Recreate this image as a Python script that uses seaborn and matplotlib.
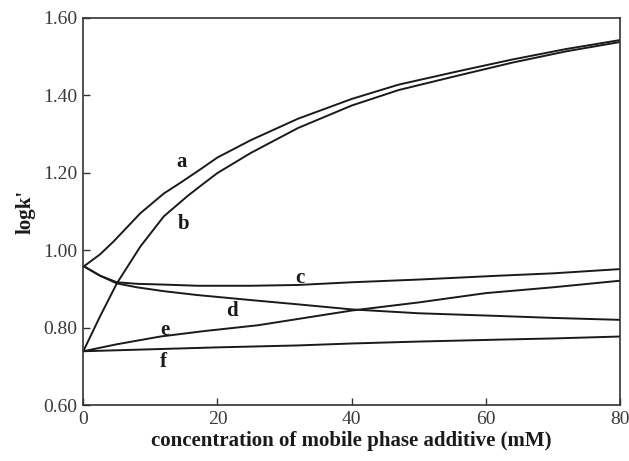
import numpy as np
import pandas as pd
import matplotlib
matplotlib.use("Agg")
import matplotlib.pyplot as plt
import seaborn as sns

sns.set_theme(style="white")
plt.rcParams['font.family'] = ['Liberation Serif', 'DejaVu Serif']

# Data
x_a = [0, 2.5, 4.5, 8.5, 12, 14.5, 17.5, 20, 25, 32, 40, 47, 56, 64, 72, 80]
y_a = [0.958, 0.99, 1.023, 1.096, 1.147, 1.175, 1.21, 1.24, 1.285, 1.34, 1.391, 1.428, 1.463, 1.493, 1.52, 1.543]
x_b = [0, 2.5, 5, 8.5, 12, 15.5, 17.5, 20, 25, 32, 40, 47, 56, 64, 72, 80]
y_b = [0.74, 0.83, 0.915, 1.01, 1.088, 1.14, 1.167, 1.20, 1.252, 1.316, 1.374, 1.414, 1.452, 1.485, 1.514, 1.538]
x_c = [0, 2.5, 5, 8, 12, 17, 25, 32, 40, 50, 62, 70, 80]
y_c = [0.96, 0.935, 0.918, 0.914, 0.912, 0.909, 0.909, 0.911, 0.918, 0.925, 0.935, 0.941, 0.952]
x_d = [0, 2.5, 5, 8, 12, 17, 25, 32, 40, 50, 62, 70, 80]
y_d = [0.96, 0.935, 0.915, 0.905, 0.895, 0.885, 0.872, 0.861, 0.848, 0.838, 0.831, 0.826, 0.821]
x_e = [0, 5, 11.5, 18, 26, 33, 40, 50, 60, 70, 80]
y_e = [0.74, 0.758, 0.778, 0.792, 0.807, 0.826, 0.845, 0.866, 0.89, 0.905, 0.922]
x_f = [0, 10, 20, 32, 40, 50, 62, 70, 80]
y_f = [0.74, 0.745, 0.75, 0.755, 0.76, 0.765, 0.770, 0.773, 0.778]

labels = ['a', 'b', 'c', 'd', 'e', 'f']
label_x = [14.6, 14.9, 32.3, 22.2, 12.2, 11.9]
label_y = [1.228, 1.068, 0.929, 0.843, 0.796, 0.713]

series = {'a': (x_a, y_a), 'b': (x_b, y_b), 'c': (x_c, y_c),
          'd': (x_d, y_d), 'e': (x_e, y_e), 'f': (x_f, y_f)}

rows = []
for name, (xs, ys) in series.items():
    for xv, yv in zip(xs, ys):
        rows.append({'series': name, 'x': xv, 'y': yv})
df = pd.DataFrame(rows)

fig = plt.figure(figsize=(6.29, 4.61), dpi=100)
ax = fig.add_axes([0.1324, 0.1204, 0.8533, 0.8406])

sns.lineplot(data=df, x='x', y='y', units='series', estimator=None,
             color='#1a1a1a', linewidth=1.4, ax=ax, legend=False, sort=False)

for lab, lx, ly in zip(labels, label_x, label_y):
    ax.text(lx, ly, lab, fontsize=15, fontweight='bold', ha='center', va='center', color='#1a1a1a')

ax.set_xlim(0, 80)
ax.set_ylim(0.60, 1.60)
ax.set_xticks([0, 20, 40, 60, 80])
ax.set_yticks([0.60, 0.80, 1.00, 1.20, 1.40, 1.60])
ax.set_yticklabels(['0.60', '0.80', '1.00', '1.20', '1.40', '1.60'])
ax.tick_params(axis='both', direction='in', length=5, width=1, color='#333333',
               labelsize=14, labelcolor='#3a3a3a', bottom=True, left=True, pad=4)
for s in ax.spines.values():
    s.set_color('#333333')
    s.set_linewidth(1.2)
ax.set_xlabel('concentration of mobile phase additive (mM)', fontsize=15, fontweight='bold', color='#1a1a1a', labelpad=2)
ax.set_ylabel("logk'", fontsize=15, fontweight='bold', color='#1a1a1a', labelpad=6)

fig.savefig('out.png', dpi=100)
